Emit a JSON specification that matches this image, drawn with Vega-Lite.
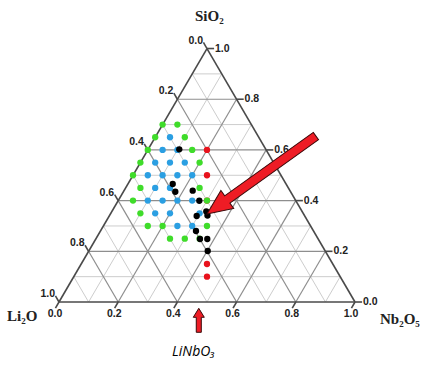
{
  "$schema": "https://vega.github.io/schema/vega-lite/v6.json",
  "width": 426,
  "height": 365,
  "autosize": {"type": "fit", "contains": "padding"},
  "padding": 0,
  "background": "white",
  "config": {"view": {"stroke": null}},
  "datasets": {
    "gridMinor": [
      {"x": 0.05, "y": 0.0866, "x2": 0.95, "y2": 0.0866},
      {"x": 0.15, "y": 0.2598, "x2": 0.85, "y2": 0.2598},
      {"x": 0.25, "y": 0.4330, "x2": 0.75, "y2": 0.4330},
      {"x": 0.35, "y": 0.6062, "x2": 0.65, "y2": 0.6062},
      {"x": 0.45, "y": 0.7794, "x2": 0.55, "y2": 0.7794},
      {"x": 0.1, "y": 0, "x2": 0.55, "y2": 0.7794},
      {"x": 0.3, "y": 0, "x2": 0.65, "y2": 0.6062},
      {"x": 0.5, "y": 0, "x2": 0.75, "y2": 0.4330},
      {"x": 0.7, "y": 0, "x2": 0.85, "y2": 0.2598},
      {"x": 0.9, "y": 0, "x2": 0.95, "y2": 0.0866},
      {"x": 0.9, "y": 0, "x2": 0.45, "y2": 0.7794},
      {"x": 0.7, "y": 0, "x2": 0.35, "y2": 0.6062},
      {"x": 0.5, "y": 0, "x2": 0.25, "y2": 0.4330},
      {"x": 0.3, "y": 0, "x2": 0.15, "y2": 0.2598},
      {"x": 0.1, "y": 0, "x2": 0.05, "y2": 0.0866}
    ],
    "gridMajor": [
      {"x": 0.1, "y": 0.1732, "x2": 0.9, "y2": 0.1732},
      {"x": 0.2, "y": 0.3464, "x2": 0.8, "y2": 0.3464},
      {"x": 0.3, "y": 0.5196, "x2": 0.7, "y2": 0.5196},
      {"x": 0.4, "y": 0.6928, "x2": 0.6, "y2": 0.6928},
      {"x": 0.2, "y": 0, "x2": 0.6, "y2": 0.6928},
      {"x": 0.4, "y": 0, "x2": 0.7, "y2": 0.5196},
      {"x": 0.6, "y": 0, "x2": 0.8, "y2": 0.3464},
      {"x": 0.8, "y": 0, "x2": 0.9, "y2": 0.1732},
      {"x": 0.8, "y": 0, "x2": 0.4, "y2": 0.6928},
      {"x": 0.6, "y": 0, "x2": 0.3, "y2": 0.5196},
      {"x": 0.4, "y": 0, "x2": 0.2, "y2": 0.3464},
      {"x": 0.2, "y": 0, "x2": 0.1, "y2": 0.1732}
    ],
    "frame": [
      {"x": 0, "y": 0, "x2": 1, "y2": 0},
      {"x": 0, "y": 0, "x2": 0.5, "y2": 0.8660},
      {"x": 1, "y": 0, "x2": 0.5, "y2": 0.8660},
      {"x": 1, "y": 0, "x2": 1.024, "y2": 0},
      {"x": 0.9, "y": 0.1732, "x2": 0.924, "y2": 0.1732},
      {"x": 0.8, "y": 0.3464, "x2": 0.824, "y2": 0.3464},
      {"x": 0.7, "y": 0.5196, "x2": 0.724, "y2": 0.5196},
      {"x": 0.6, "y": 0.6928, "x2": 0.624, "y2": 0.6928},
      {"x": 0.5, "y": 0.8660, "x2": 0.524, "y2": 0.8660},
      {"x": 0.5, "y": 0.8660, "x2": 0.488, "y2": 0.8868},
      {"x": 0.4, "y": 0.6928, "x2": 0.388, "y2": 0.7136},
      {"x": 0.3, "y": 0.5196, "x2": 0.288, "y2": 0.5404},
      {"x": 0.2, "y": 0.3464, "x2": 0.188, "y2": 0.3672},
      {"x": 0.1, "y": 0.1732, "x2": 0.088, "y2": 0.1940},
      {"x": 0, "y": 0, "x2": -0.012, "y2": 0.0208},
      {"x": 0, "y": 0, "x2": -0.012, "y2": -0.0208},
      {"x": 0.2, "y": 0, "x2": 0.188, "y2": -0.0208},
      {"x": 0.4, "y": 0, "x2": 0.388, "y2": -0.0208},
      {"x": 0.6, "y": 0, "x2": 0.588, "y2": -0.0208},
      {"x": 0.8, "y": 0, "x2": 0.788, "y2": -0.0208},
      {"x": 1, "y": 0, "x2": 0.988, "y2": -0.0208}
    ],
    "bottomLabels": [
      {"x": 0, "y": 0, "t": "0.0"}, {"x": 0.2, "y": 0, "t": "0.2"}, {"x": 0.4, "y": 0, "t": "0.4"},
      {"x": 0.6, "y": 0, "t": "0.6"}, {"x": 0.8, "y": 0, "t": "0.8"}, {"x": 1, "y": 0, "t": "1.0"}
    ],
    "rightLabels": [
      {"x": 1, "y": 0, "t": "0.0"}, {"x": 0.9, "y": 0.1732, "t": "0.2"}, {"x": 0.8, "y": 0.3464, "t": "0.4"},
      {"x": 0.7, "y": 0.5196, "t": "0.6"}, {"x": 0.6, "y": 0.6928, "t": "0.8"}, {"x": 0.5, "y": 0.8660, "t": "1.0"}
    ],
    "leftLabels": [
      {"x": 0.5, "y": 0.8660, "t": "0.0"}, {"x": 0.4, "y": 0.6928, "t": "0.2"}, {"x": 0.3, "y": 0.5196, "t": "0.4"},
      {"x": 0.2, "y": 0.3464, "t": "0.6"}, {"x": 0.1, "y": 0.1732, "t": "0.8"}, {"x": 0, "y": 0, "t": "1.0"}
    ],
    "titles": [
      {"x": 0.4595, "y": 0.961, "t": "SiO₂"},
      {"x": -0.1757, "y": -0.0639, "t": "Li₂O"},
      {"x": 1.0845, "y": -0.0752, "t": "Nb₂O₅"}
    ],
    "pts": [
      {"g": "red", "SiO2": 0.6, "Nb2O5": 0.2},
      {"g": "red", "SiO2": 0.5, "Nb2O5": 0.25},
      {"g": "red", "SiO2": 0.4, "Nb2O5": 0.3},
      {"g": "red", "SiO2": 0.15, "Nb2O5": 0.425},
      {"g": "red", "SiO2": 0.1, "Nb2O5": 0.45},
      {"g": "green", "SiO2": 0.7, "Nb2O5": 0},
      {"g": "green", "SiO2": 0.7, "Nb2O5": 0.05},
      {"g": "green", "SiO2": 0.65, "Nb2O5": 0},
      {"g": "green", "SiO2": 0.65, "Nb2O5": 0.1},
      {"g": "green", "SiO2": 0.6, "Nb2O5": 0},
      {"g": "green", "SiO2": 0.6, "Nb2O5": 0.15},
      {"g": "green", "SiO2": 0.55, "Nb2O5": 0},
      {"g": "green", "SiO2": 0.55, "Nb2O5": 0.2},
      {"g": "green", "SiO2": 0.5, "Nb2O5": 0},
      {"g": "green", "SiO2": 0.45, "Nb2O5": 0.05},
      {"g": "green", "SiO2": 0.45, "Nb2O5": 0.25},
      {"g": "green", "SiO2": 0.4, "Nb2O5": 0.05},
      {"g": "green", "SiO2": 0.4, "Nb2O5": 0.3},
      {"g": "green", "SiO2": 0.35, "Nb2O5": 0.1},
      {"g": "green", "SiO2": 0.3, "Nb2O5": 0.15},
      {"g": "green", "SiO2": 0.3, "Nb2O5": 0.2},
      {"g": "green", "SiO2": 0.3, "Nb2O5": 0.35},
      {"g": "green", "SiO2": 0.25, "Nb2O5": 0.25},
      {"g": "green", "SiO2": 0.25, "Nb2O5": 0.3},
      {"g": "green", "SiO2": 0.25, "Nb2O5": 0.35},
      {"g": "blue", "SiO2": 0.65, "Nb2O5": 0.05},
      {"g": "blue", "SiO2": 0.6, "Nb2O5": 0.05},
      {"g": "blue", "SiO2": 0.6, "Nb2O5": 0.1},
      {"g": "blue", "SiO2": 0.55, "Nb2O5": 0.05},
      {"g": "blue", "SiO2": 0.55, "Nb2O5": 0.1},
      {"g": "blue", "SiO2": 0.55, "Nb2O5": 0.15},
      {"g": "blue", "SiO2": 0.5, "Nb2O5": 0.05},
      {"g": "blue", "SiO2": 0.5, "Nb2O5": 0.1},
      {"g": "blue", "SiO2": 0.5, "Nb2O5": 0.15},
      {"g": "blue", "SiO2": 0.5, "Nb2O5": 0.2},
      {"g": "blue", "SiO2": 0.45, "Nb2O5": 0.1},
      {"g": "blue", "SiO2": 0.45, "Nb2O5": 0.15},
      {"g": "blue", "SiO2": 0.4, "Nb2O5": 0.1},
      {"g": "blue", "SiO2": 0.4, "Nb2O5": 0.15},
      {"g": "blue", "SiO2": 0.4, "Nb2O5": 0.2},
      {"g": "blue", "SiO2": 0.4, "Nb2O5": 0.25},
      {"g": "blue", "SiO2": 0.35, "Nb2O5": 0.15},
      {"g": "blue", "SiO2": 0.35, "Nb2O5": 0.2},
      {"g": "blue", "SiO2": 0.35, "Nb2O5": 0.3},
      {"g": "blue", "SiO2": 0.3, "Nb2O5": 0.25},
      {"g": "blue", "SiO2": 0.3, "Nb2O5": 0.3},
      {"g": "black", "SiO2": 0.6024, "Nb2O5": 0.1052},
      {"g": "black", "SiO2": 0.4655, "Nb2O5": 0.1514},
      {"g": "black", "SiO2": 0.4351, "Nb2O5": 0.1754},
      {"g": "black", "SiO2": 0.4391, "Nb2O5": 0.2322},
      {"g": "black", "SiO2": 0.3996, "Nb2O5": 0.2742},
      {"g": "black", "SiO2": 0.3393, "Nb2O5": 0.2955},
      {"g": "black", "SiO2": 0.357, "Nb2O5": 0.3191},
      {"g": "black", "SiO2": 0.3412, "Nb2O5": 0.3311},
      {"g": "black", "SiO2": 0.2801, "Nb2O5": 0.3228},
      {"g": "black", "SiO2": 0.2485, "Nb2O5": 0.3521},
      {"g": "black", "SiO2": 0.2485, "Nb2O5": 0.3768},
      {"g": "black", "SiO2": 0.2012, "Nb2O5": 0.4018}
    ]
  },
  "encoding": {
    "x": {"field": "x", "type": "quantitative", "scale": {"domain": [-0.1993, 1.2399], "nice": false, "zero": false}, "axis": null},
    "y": {"field": "y", "type": "quantitative", "scale": {"domain": [-0.2152, 1.0318], "nice": false, "zero": false}, "axis": null}
  },
  "layer": [
    {
      "data": {"name": "gridMinor"},
      "mark": {"type": "rule", "stroke": "#cdcdcd", "strokeWidth": 1},
      "encoding": {"x2": {"field": "x2"}, "y2": {"field": "y2"}}
    },
    {
      "data": {"name": "gridMajor"},
      "mark": {"type": "rule", "stroke": "#8e8e8e", "strokeWidth": 1.2},
      "encoding": {"x2": {"field": "x2"}, "y2": {"field": "y2"}}
    },
    {
      "data": {"name": "frame"},
      "mark": {"type": "rule", "stroke": "#4a4a4a", "strokeWidth": 1.6},
      "encoding": {"x2": {"field": "x2"}, "y2": {"field": "y2"}}
    },
    {
      "data": {"name": "pts"},
      "transform": [
        {"calculate": "datum.Nb2O5 + datum.SiO2 / 2", "as": "x"},
        {"calculate": "datum.SiO2 * 0.8660254", "as": "y"}
      ],
      "mark": {"type": "point", "filled": true, "size": 40, "opacity": 1},
      "encoding": {
        "color": {"field": "g", "type": "nominal", "scale": {"domain": ["red", "green", "blue", "black"], "range": ["#e8121c", "#3fdc2a", "#2b9fe2", "#000000"]}, "legend": null}
      }
    },
    {
      "data": {"name": "bottomLabels"},
      "mark": {"type": "text", "font": "Liberation Sans", "fontWeight": "bold", "fontSize": 10.5, "fill": "#222222", "align": "center", "baseline": "middle", "dx": -4, "dy": 12},
      "encoding": {"text": {"field": "t"}}
    },
    {
      "data": {"name": "rightLabels"},
      "mark": {"type": "text", "font": "Liberation Sans", "fontWeight": "bold", "fontSize": 10.5, "fill": "#222222", "align": "left", "baseline": "middle", "dx": 8, "dy": 0},
      "encoding": {"text": {"field": "t"}}
    },
    {
      "data": {"name": "leftLabels"},
      "mark": {"type": "text", "font": "Liberation Sans", "fontWeight": "bold", "fontSize": 10.5, "fill": "#222222", "align": "right", "baseline": "middle", "dx": -4, "dy": -8},
      "encoding": {"text": {"field": "t"}}
    },
    {
      "data": {"name": "titles"},
      "mark": {"type": "text", "font": "Liberation Serif", "fontWeight": "bold", "fontSize": 15, "fill": "#222222", "align": "left", "baseline": "alphabetic"},
      "encoding": {"text": {"field": "t"}}
    },
    {
      "data": {"values": [{"x": 0.382, "y": -0.1835, "t": "LiNbO₃"}]},
      "mark": {"type": "text", "font": "Open Sans", "fontStyle": "italic", "fontSize": 14, "fill": "#000000", "align": "left", "baseline": "alphabetic"},
      "encoding": {"text": {"field": "t"}}
    },
    {
      "data": {"values": [{"x": 0.4723, "y": -0.0625}]},
      "mark": {"type": "point", "shape": "M -1 -0.21 L 0.25 -0.21 L 0.25 -0.46 L 1 0 L 0.25 0.46 L 0.25 0.21 L -1 0.21 Z", "size": 576, "angle": 270, "filled": true, "fill": "#ee1c25", "stroke": "#3a0a0a", "strokeWidth": 1, "opacity": 1}
    },
    {
      "data": {"values": [{"x": 0.684, "y": 0.4339}]},
      "mark": {"type": "point", "shape": "M -1 -0.067 L 0.627 -0.067 L 0.627 -0.164 L 1 0 L 0.627 0.164 L 0.627 0.067 L -1 0.067 Z", "size": 17956, "angle": 144.4, "filled": true, "fill": "#ee1c25", "stroke": "#3a0a0a", "strokeWidth": 1, "opacity": 1}
    }
  ]
}
